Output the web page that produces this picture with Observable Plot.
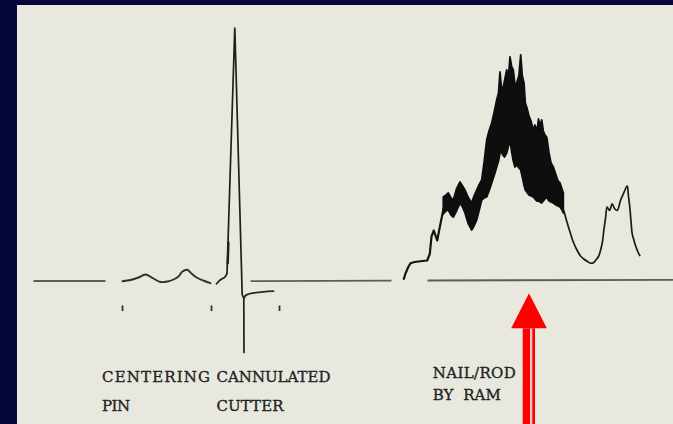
<!DOCTYPE html>
<html>
<head>
<meta charset="utf-8">
<script src="https://cdn.jsdelivr.net/npm/d3@7"></script>
<script src="https://cdn.jsdelivr.net/npm/@observablehq/plot@0.6"></script>
<style>
  html, body { margin: 0; padding: 0; background: #06063b; }
  #chart { padding: 5px 0 0 17px; width: 656px; height: 419px; }
  #chart svg { display: block; }
</style>
</head>
<body>
<div id="chart"></div>
<script>
// Reamer force record: time (arbitrary units) against force (arbitrary units, 0 = rest line)

// rest line segments: [t1, f1, t2, f2]
const restLine = [
  [0, 0.5, 72, 0.5],
  [217, 0.3, 358, 0.8],
  [394, 1.0, 640, 1.7]
];

// centering pin trace
const pinTrace = [
  [89, 0.3], [97, 1.5], [105, 4], [112, 7], [119, 3.5], [127, -0.5], [134, 0],
  [140, 2], [145, 5], [149, 10], [153.7, 11.7], [158, 8], [164, 3.5], [171, 0.5], [177, -1.7]
];

// cannulated cutter trace: spike and undershoot
const cutterTrace = [
  [183, -2.3], [186, 1], [189, 3], [191, 4], [192.5, 6], [193.5, 8], [201.3, 254],
  [208.7, -13], [210.3, -17], [210.5, -71]
];
const cutterStep = [[194.3, 18], [195, 39]];
const cutterRecovery = [
  [210.5, -17], [212, -14], [215, -12.5], [220, -11.5], [230, -10.3], [240, -9.7]
];

// event marks below the rest line
const eventTimes = [89, 178, 246];
const eventTop = -24.5;
const eventBottom = -30;

// nail / rod driven by ram: onset, dense oscillating band [t, low, high], and tail
const ramOnset = [
  [370.3, 2.7], [372, 8], [375, 15], [377, 18.3], [381, 19.5], [385, 20], [389, 20.5],
  [393.7, 21], [396.3, 27.7], [398, 45], [400.3, 51], [403.7, 41], [407, 58], [410.3, 74]
];
const ramBand = [
  [410.3, 67, 84], [413, 70, 86], [415.3, 71, 88], [418, 66, 83], [420.3, 64, 81],
  [423.5, 70, 92], [427, 78, 99], [429.5, 74, 95], [432, 68, 91], [435, 58, 84],
  [438.7, 51, 78], [441, 55, 85], [443.7, 61, 91], [446, 70, 96], [448.7, 81, 101],
  [451, 83, 118], [453.7, 84, 141], [456, 90, 150], [458.7, 98, 158], [461, 105, 168],
  [463.7, 114, 181], [465.5, 120, 188], [467, 128, 209], [468.3, 130, 195], [469.7, 126, 191],
  [471.5, 124, 200], [473.7, 128, 211], [475.5, 135, 205], [477, 141, 224], [478.5, 130, 215],
  [480.3, 120, 211], [482, 114, 196], [483.7, 116, 198], [486, 113, 206], [487.7, 111, 226],
  [489.3, 104, 205], [491, 96, 198], [492.3, 91, 178], [493.7, 89, 174], [496, 86, 165],
  [498, 85, 160], [500.3, 84, 151], [502, 82, 156], [504, 80, 150], [505.5, 80, 162],
  [507, 79, 155], [508.7, 78, 161], [510.3, 80, 150], [512, 82, 146], [513.7, 84, 144],
  [516, 80, 128], [518, 79, 118], [520.3, 78, 114], [523, 76, 106], [525, 75, 100],
  [527, 74, 98], [529, 71, 92], [530.3, 68, 88]
];
const ramTail = [
  [530.3, 71], [533, 61], [537, 48], [540, 39], [543.7, 31], [547, 25.5], [550.3, 22.5],
  [554, 20], [557, 18.3], [560, 18.8], [562, 21], [565, 25], [567, 31], [569, 40],
  [570.3, 51], [572, 63], [573.7, 74.3], [576, 71], [578.7, 77.7], [581, 73], [583.7, 71],
  [587, 81], [590, 88], [592, 92.7], [593.7, 95.3], [595, 85], [596.3, 74.3], [597.5, 60],
  [598.7, 47.7], [600.5, 41], [602, 36], [604, 30.5], [606.3, 26]
];

// labels
const labelText = ["CENTERING", "PIN", "CANNULATED", "CUTTER", "NAIL/ROD", "BY  RAM"];
const labelT = [68.5, 68.5, 183, 183, 399.3, 399.3];
const labelF = [-100.7, -129, -100.7, -129, -96.3, -118];
const labelWidth = [108, 28, 114, 67, 83, 68];

// pointer marking the ram event
const pointerT = 496;
const pointerHeadWidth = 35.7;
const pointerHeadBase = -47.3;
const pointerTip = -12.3;
const pointerShaft = [489.7, 502];
const pointerGap = [497, 499.3];

const pts = a => a.map(([x, y]) => ({x, y}));

const chart = Plot.plot({
  width: 656,
  height: 419,
  margin: 0,
  x: {domain: [-16, 640], axis: null},
  y: {domain: [-143, 276], axis: null},
  style: {background: "#e8e8df", overflow: "visible"},
  marks: [
    Plot.link(restLine, {
      x1: d => d[0], y1: d => d[1], x2: d => d[2], y2: d => d[3],
      stroke: "#5c5c5a", strokeWidth: 1.8
    }),
    Plot.line(pts(pinTrace), {x: "x", y: "y", curve: "catmull-rom", stroke: "#2e2e2e", strokeWidth: 1.9}),
    Plot.line(pts(cutterTrace), {x: "x", y: "y", stroke: "#1e1e1e", strokeWidth: 1.7, strokeLinejoin: "miter"}),
    Plot.line(pts(cutterStep), {x: "x", y: "y", stroke: "#1e1e1e", strokeWidth: 2.2}),
    Plot.line(pts(cutterRecovery), {x: "x", y: "y", curve: "catmull-rom", stroke: "#2a2a2a", strokeWidth: 1.8}),
    Plot.ruleX(eventTimes, {y1: eventTop, y2: eventBottom, stroke: "#333", strokeWidth: 1.8}),
    Plot.line(pts(ramOnset), {x: "x", y: "y", stroke: "#141414", strokeWidth: 2.2}),
    Plot.area(ramBand, {
      x1: d => d[0], y1: d => d[1], y2: d => d[2],
      fill: "#0e0e0e", stroke: "#0e0e0e", strokeWidth: 1.8
    }),
    Plot.line(pts(ramTail), {x: "x", y: "y", curve: "catmull-rom", stroke: "#1a1a1a", strokeWidth: 1.7}),
    Plot.text(labelText.map((text, i) => ({text, x: labelT[i], y: labelF[i]})), {
      x: "x", y: "y", text: "text", textAnchor: "start", lineAnchor: "bottom",
      fontFamily: "DejaVu Serif", fontSize: 15, fill: "#232323",
      stroke: "#232323", strokeWidth: 0.35
    }),
    Plot.rect([{x1: pointerShaft[0], x2: pointerShaft[1]}], {
      x1: "x1", x2: "x2", y1: -143, y2: pointerHeadBase, fill: "#ff0000"
    }),
    Plot.rect([{x1: pointerGap[0], x2: pointerGap[1]}], {
      x1: "x1", x2: "x2", y1: -143, y2: pointerHeadBase, fill: "#e6c4c4"
    }),
    Plot.area([
      {x: pointerT - pointerHeadWidth / 2, y: pointerHeadBase},
      {x: pointerT, y: pointerTip},
      {x: pointerT + pointerHeadWidth / 2, y: pointerHeadBase}
    ], {x1: "x", y1: pointerHeadBase, y2: "y", fill: "#ff0000"})
  ]
});

// fit each label to its printed width
chart.querySelectorAll('g[aria-label="text"] text').forEach((el, i) => {
  el.setAttribute("textLength", labelWidth[i]);
  el.setAttribute("lengthAdjust", "spacing");
});

document.getElementById("chart").append(chart);
</script>
</body>
</html>
